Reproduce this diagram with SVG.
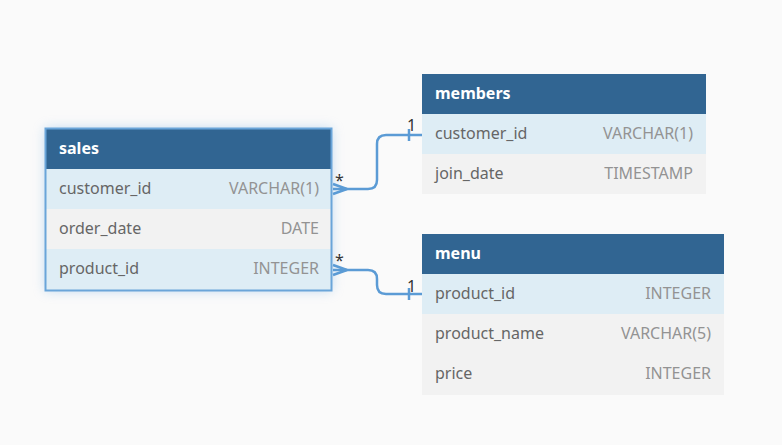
<svg xmlns="http://www.w3.org/2000/svg" width="782" height="445" viewBox="0 0 782 445">
<defs>
<filter id="glow" x="-20%" y="-20%" width="140%" height="140%">
<feGaussianBlur stdDeviation="6"/>
</filter>
<style>
.hdr{fill:#316592}
.hl{fill:#deedf5}
.gr{fill:#f2f2f2}
.title{font-family:"Noto Sans",sans-serif;font-size:16px;font-weight:bold;fill:#ffffff}
.fn{font-family:"Noto Sans",sans-serif;font-size:16px;fill:#666666}
.ft{font-family:"Noto Sans",sans-serif;font-size:16px;fill:#939393;text-anchor:end}
.conn{fill:none;stroke:#5b9bd5;stroke-width:2.5}
.card{font-family:"Noto Sans",sans-serif;font-size:16px;fill:#333333}
</style>
</defs>
<rect width="782" height="445" fill="#fafafa"/>
<g id="sales">
<rect x="45" y="128" width="287" height="163" fill="#8bbbe6" opacity="0.5" filter="url(#glow)"/>
<rect x="45" y="128" width="287" height="41" class="hdr"/>
<rect x="45" y="169" width="287" height="40" class="hl"/>
<rect x="45" y="209" width="287" height="40" class="gr"/>
<rect x="45" y="249" width="287" height="41" class="hl"/>
<rect x="45.5" y="128.5" width="286" height="162" fill="none" stroke="#6aa5d9" stroke-width="2"/>
<text x="59" y="154" class="title">sales</text>
<text x="59" y="194" class="fn">customer_id</text>
<text x="319" y="194" class="ft">VARCHAR(1)</text>
<text x="59" y="234" class="fn">order_date</text>
<text x="319" y="234" class="ft">DATE</text>
<text x="59" y="274" class="fn">product_id</text>
<text x="319" y="274" class="ft">INTEGER</text>
</g>
<g id="members">
<rect x="422" y="74" width="284" height="40" class="hdr"/>
<rect x="422" y="114" width="284" height="40" class="hl"/>
<rect x="422" y="154" width="284" height="40" class="gr"/>
<text x="435" y="99" class="title">members</text>
<text x="435" y="139" class="fn">customer_id</text>
<text x="693" y="139" class="ft">VARCHAR(1)</text>
<text x="435" y="179" class="fn">join_date</text>
<text x="693" y="179" class="ft">TIMESTAMP</text>
</g>
<g id="menu">
<rect x="422" y="234" width="302" height="40" class="hdr"/>
<rect x="422" y="274" width="302" height="40" class="hl"/>
<rect x="422" y="314" width="302" height="40" class="gr"/>
<rect x="422" y="354" width="302" height="41" class="gr"/>
<text x="435" y="259" class="title">menu</text>
<text x="435" y="299" class="fn">product_id</text>
<text x="711" y="299" class="ft">INTEGER</text>
<text x="435" y="339" class="fn">product_name</text>
<text x="711" y="339" class="ft">VARCHAR(5)</text>
<text x="435" y="379" class="fn">price</text>
<text x="711" y="379" class="ft">INTEGER</text>
</g>
<g id="connectors">
<path class="conn" d="M333,189 H368 Q377,189 377,180 V144 Q377,135 386,135 H422"/>
<path class="conn" stroke-width="1.8" d="M333,184 L347,189 M333,194 L347,189"/>
<path class="conn" d="M409,129 V141"/>
<text x="335" y="186" class="card">*</text>
<text x="407" y="131" class="card">1</text>
<path class="conn" d="M333,270 H368 Q377,270 377,279 V285 Q377,294 386,294 H422"/>
<path class="conn" stroke-width="1.8" d="M333,265 L347,270 M333,275 L347,270"/>
<path class="conn" d="M409,288 V300"/>
<text x="335" y="266" class="card">*</text>
<text x="407" y="292" class="card">1</text>
</g>
</svg>
